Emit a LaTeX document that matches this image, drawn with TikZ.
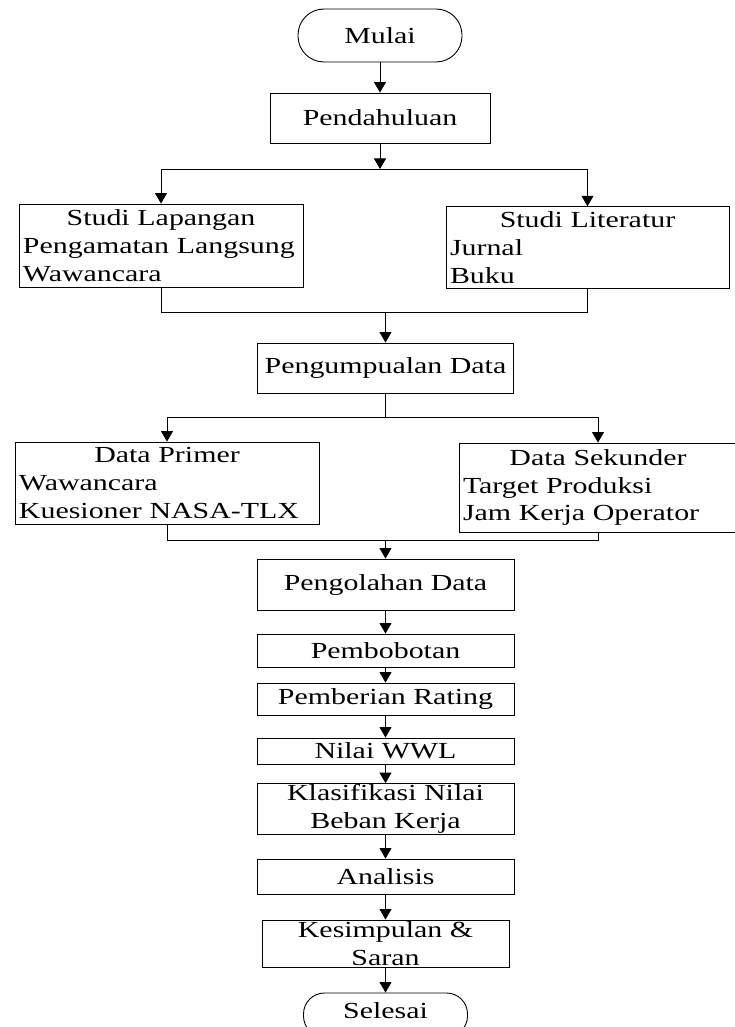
\documentclass[tikz,border=0pt]{standalone}
\usepackage{fontspec}
\setmainfont{Liberation Serif}[FakeStretch=1.3]
\usetikzlibrary{positioning,arrows.meta}
\newcommand{\kiri}[1]{\makebox[\linewidth][l]{#1}}

\begin{document}
\begin{tikzpicture}[x=1pt,y=-1pt,
   every node/.style={font=\fontsize{23}{27.7}\selectfont},
   proc/.style={draw,line width=.9pt,inner xsep=4pt,inner ysep=2pt},
   multi/.style={proc,align=center,inner ysep=5pt},
   term/.style={draw,line width=.9pt,rounded corners=26pt,minimum width=164pt,minimum height=53pt},
   arr/.style={line width=.8pt,-{Triangle[length=10.5pt,width=12pt]}},
   lin/.style={line width=.8pt}]
  \useasboundingbox (0,0) rectangle (735,1027);
  \clip (0,0) rectangle (735,1027);
  % awal
  \node[term] (mulai) at (380,35.5) {Mulai};
  \node[proc,minimum width=220pt,minimum height=50pt] (pend) at (380,118) {Pendahuluan};
  % studi
  \node[multi,text width=276pt,minimum height=83pt] (lap) at (161,245.5)
    {Studi Lapangan\\\kiri{Pengamatan Langsung}\\\kiri{Wawancara}};
  \node[multi,text width=275pt,minimum height=79pt] (lit) at (587.5,247.5)
    {Studi Literatur\\\kiri{Jurnal}\\\kiri{Buku}};
  \node[proc,minimum width=256pt,minimum height=50pt] (kumpul) at (385.5,368) {Pengumpualan Data};
  % data
  \node[multi,text width=296pt,minimum height=82pt] (prim) at (167,483)
    {Data Primer\\\kiri{Wawancara}\\\kiri{Kuesioner NASA-TLX}};
  \node[multi,text width=270pt,minimum height=89pt] (sek) at (598,487.5)
    {Data Sekunder\\\kiri{Target Produksi}\\\kiri{Jam Kerja Operator}};
  % pengolahan
  \node[proc,minimum width=257pt,minimum height=51pt] (olah) at (385.5,584.5) {Pengolahan Data};
  \node[proc,minimum width=257pt,minimum height=33pt] (bobot) at (385.5,650.5) {Pembobotan};
  \node[proc,minimum width=257pt,minimum height=32pt] (rating) at (385.5,699) {Pemberian Rating};
  \node[proc,minimum width=257pt,minimum height=26pt] (wwl) at (385.5,751) {Nilai WWL};
  \node[proc,align=center,inner ysep=1pt,minimum width=257pt,minimum height=50pt] (klas) at (385.5,809)
    {Klasifikasi Nilai\\Beban Kerja};
  \node[proc,minimum width=257pt,minimum height=35pt] (anal) at (385.5,876.5) {Analisis};
  \node[proc,align=center,inner ysep=1.5pt,minimum width=247pt,minimum height=47pt] (simpul) at (385.5,943.5)
    {Kesimpulan \&\\Saran};
  \node[term,minimum height=44pt,rounded corners=21pt,text depth=9.7pt] (selesai) at (385.5,1015) {Selesai};
  % cabang 1
  \coordinate (bagi1) at (380,169);
  \coordinate (gabung1) at (385.5,312);
  \draw[arr] (mulai) -- (pend);
  \draw[arr] (pend) -- (bagi1);
  \draw[arr] (bagi1) -| (lap);
  \draw[arr] (bagi1) -| (lit);
  \draw[lin] (lap) |- (gabung1);
  \draw[lin] (lit) |- (gabung1);
  \draw[arr] (gabung1) -- (kumpul);
  % cabang 2
  \coordinate (bagi2) at (385.5,417);
  \coordinate (gabung2) at (385.5,540);
  \draw[lin] (kumpul) -- (bagi2);
  \draw[arr] (bagi2) -| (prim);
  \draw[arr] (bagi2) -| (sek);
  \draw[lin] (prim) |- (gabung2);
  \draw[lin] (sek) |- (gabung2);
  \draw[arr] (gabung2) -- (olah);
  % urutan
  \foreach \a/\b in {olah/bobot,bobot/rating,rating/wwl,wwl/klas,klas/anal,anal/simpul,simpul/selesai}
    \draw[arr] (\a) -- (\b);
\end{tikzpicture}
\end{document}
